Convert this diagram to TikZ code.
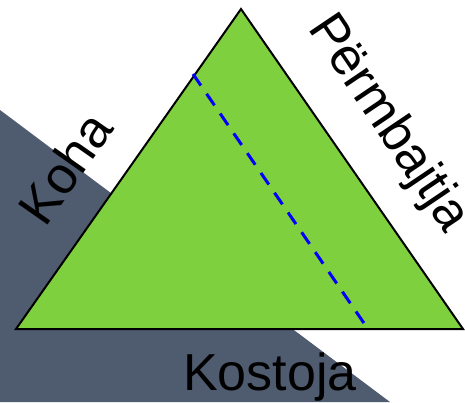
\documentclass[tikz,border=0pt]{standalone}
\usepackage{fontspec}
\setmainfont{Liberation Sans}
\definecolor{tgreen}{RGB}{126,208,63}
\definecolor{slate}{RGB}{79,91,110}
\begin{document}
\begin{tikzpicture}[x=1pt,y=-1pt,
  lbl/.style={font=\fontsize{52}{52}\selectfont, inner sep=0pt, text=black}]
\useasboundingbox (0,0) rectangle (465,402);
\fill[slate] (0,110) -- (390,402) -- (0,402) -- cycle;
\coordinate (T) at (241,9);
\coordinate (L) at (16,329);
\coordinate (R) at (463,329);
\filldraw[fill=tgreen, draw=black, line width=2pt, line join=miter] (T) -- (L) -- (R) -- cycle;
\coordinate (d1) at (193,74);
\coordinate (d2) at (368,329);
\draw[blue, line width=3pt, dash pattern=on 14pt off 10pt] (d1) -- (d2);
\node[lbl, anchor=base] (kostoja) at (270,390) {Kostoja};
\node[lbl, rotate=55] (koha) at (65,168) {Koha};
\node[lbl, rotate=-56, anchor=base west] (perm) at (307,28) {Përmbajtja};
\end{tikzpicture}
\end{document}
